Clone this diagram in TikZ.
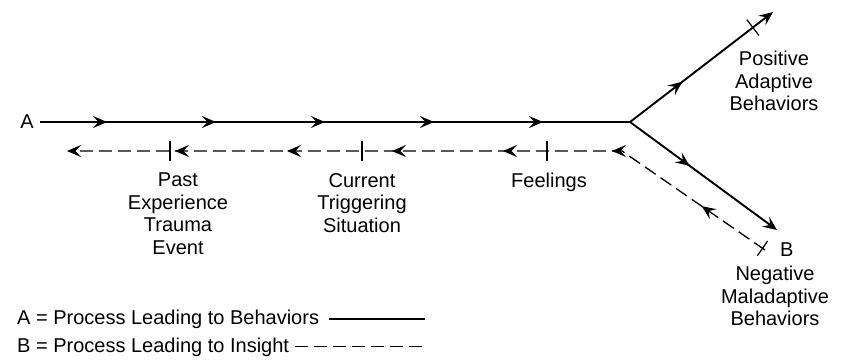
\documentclass[tikz,border=0pt]{standalone}
\usepackage{fontspec}
\setmainfont{Liberation Sans}
\usepackage{tikz}
\usetikzlibrary{arrows.meta,positioning,decorations.markings}
\tikzset{
  % Arrow tips
  >={Stealth[length=14pt,width=12pt,inset=5.5pt]},
  % Label text
  lbl/.style={inner sep=0pt,align=center,
              font=\fontsize{20}{22.5}\selectfont},
  % Process lines
  procA/.style={line width=1.9pt},
  procB/.style={line width=1.3pt,dash pattern=on 13pt off 6pt},
  % Cross ticks
  tk/.style={line width=1.2pt,solid,-}
}

\begin{document}
\begin{tikzpicture}[x=1pt,y=-1pt]
  \useasboundingbox (0,0) rectangle (848,360);
  % Points of the two paths
  \coordinate (start) at (40,122);
  \coordinate (fork)  at (630,122);
  \coordinate (up)    at (773,12);
  \coordinate (down)  at (777,230);
  \coordinate (bX)    at (765,250);
  \coordinate (turn)  at (622,151);
  \coordinate (back)  at (67,151);
  \coordinate (past)  at (170,151);
  \coordinate (curr)  at (362,151);
  \coordinate (feel)  at (547,151);

  % Process A
  \node[lbl,left=6pt of start] (A) {A};
  \draw[procA,postaction={decorate},decoration={markings,
      mark=between positions 67pt and 510pt step 109pt with {\arrow{>}}}]
    (start) -- (fork);
  \draw[procA,->,postaction={decorate},decoration={markings,
      mark=at position 66pt with {\arrow{>}},
      mark=at position 155pt with {\draw[tk] (0,-10) -- (0,10);}}]
    (fork) -- (up);
  \draw[procA,->,postaction={decorate},decoration={markings,
      mark=at position 74pt with {\arrow{>}}}]
    (fork) -- (down);

  % Process B
  \draw[procB,->,postaction={decorate},decoration={markings,
      mark=at position 3pt with {\draw[tk] (0,-9) -- (0,9);},
      mark=at position 77pt with {\arrow{>}},
      mark=at position 184pt with {\arrow{>}},
      mark=at position 293pt with {\arrow{>}},
      mark=at position 404pt with {\arrow{>}},
      mark=at position 509pt with {\arrow{>}},
      mark=at position 621pt with {\arrow{>}}}]
    (bX) -- (turn) -- (back);
  \foreach \p in {past,curr,feel}
    \draw[tk] (\p) ++(0,-10) -- ++(0,20);

  % Labels
  \node[lbl,below=22pt of past,xshift=8pt] (pastL) {Past\\Experience\\Trauma\\Event};
  \node[lbl,below=22pt of curr] (currL) {Current\\Triggering\\Situation};
  \node[lbl,below=22pt of feel,xshift=2pt] (feelL) {Feelings};
  \node[lbl,below=39pt of up,xshift=1pt] (posL) {Positive\\Adaptive\\Behaviors};
  \node[lbl,right=15pt of bX] (B) {B};
  \node[lbl,below=16pt of bX,xshift=10pt] (negL) {Negative\\Maladaptive\\Behaviors};

  % Key
  \node[lbl,anchor=base west] (keyA) at (17,324) {A = Process Leading to Behaviors};
  \node[lbl,anchor=base west] (keyB) at (17,352) {B = Process Leading to Insight};
  \coordinate (kEnd) at (425,0);
  \draw[procA] ([xshift=10pt]keyA.east) -- (keyA.east -| kEnd);
  \draw[procB] ([xshift=6pt]keyB.east) -- (keyB.east -| kEnd);
\end{tikzpicture}
\end{document}
